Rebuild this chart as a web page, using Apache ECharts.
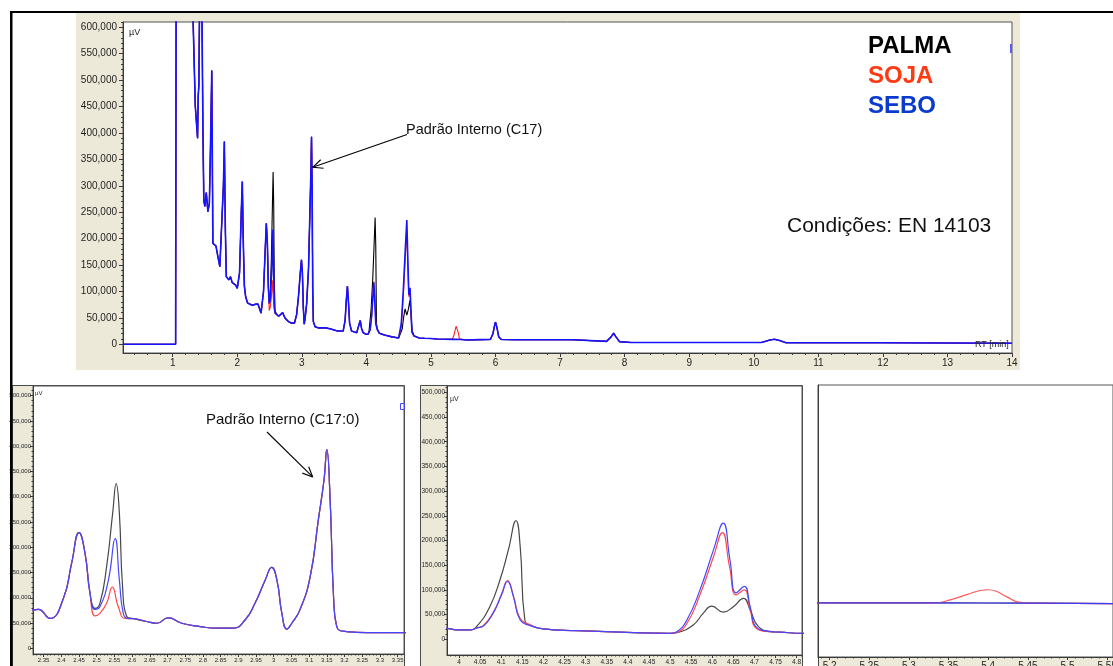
<!DOCTYPE html>
<html>
<head>
<meta charset="utf-8">
<title>Cromatogramas PALMA / SOJA / SEBO</title>
<script src="https://cdn.jsdelivr.net/npm/echarts@6/dist/echarts.min.js"></script>
<style>
  html, body { margin: 0; padding: 0; background: #ffffff; }
  #chart { width: 1113px; height: 666px; }
</style>
</head>
<body>
<div id="chart"></div>
<script>
// ---------------------------------------------------------------------------
// Chromatogram data: [retention time (min), signal (µV)]
// Points where the three samples coincide
const sharedTrace = [
  [0.23, 0], [1.045, 0], [1.056, 900000], [1.29, 900000], [1.31, 640000], [1.35, 450000],
  [1.385, 390000], [1.395, 470000], [1.405, 490000], [1.42, 492000], [1.435, 900000],
  [1.455, 900000], [1.468, 405000], [1.482, 272000], [1.498, 261000], [1.52, 287000],
  [1.545, 251000], [1.568, 267000], [1.585, 372000], [1.605, 518000], [1.622, 191000],
  [1.645, 194000], [1.67, 186000], [1.70, 166000], [1.73, 147000], [1.75, 150000],
  [1.785, 300000], [1.80, 384000], [1.815, 220000], [1.83, 128000], [1.87, 122000],
  [1.895, 128000], [1.92, 117000], [1.95, 120000], [1.975, 112000], [2.0, 106000],
  [2.035, 135000], [2.062, 250000], [2.078, 308000], [2.092, 200000], [2.11, 110000],
  [2.13, 90000], [2.16, 78000], [2.23, 74000], [2.29, 76000],
  [2.321, 76000], [2.335, 77000], [2.368, 59000], [2.406, 99000], [2.429, 168000],
  [2.45, 229000], [2.467, 188000], [2.481, 109000],
  [2.604, 58700], [2.641, 53000], [2.669, 49500], [2.702, 60000], [2.74, 49500],
  [2.792, 43000], [2.839, 40000], [2.886, 40000], [2.919, 56000], [2.947, 89000],
  [2.976, 135000], [2.994, 160000], [3.009, 135000], [3.023, 69000], [3.037, 38000],
  [3.051, 49500], [3.074, 76000], [3.103, 142000], [3.126, 254000], [3.142, 333000],
  [3.15, 393000], [3.159, 300000], [3.169, 102000], [3.178, 43000], [3.206, 33000],
  [3.263, 31000], [3.371, 31000],
  [3.45, 29000], [3.55, 25000], [3.64, 25000], [3.67, 45000], [3.69, 85000],
  [3.706, 110000], [3.72, 85000], [3.74, 40000], [3.77, 25000], [3.85, 22000],
  [3.88, 35000], [3.905, 45000], [3.925, 30000], [3.95, 22000],
  [3.971, 22000], [3.994, 19000], [4.026, 19000],
  [4.2, 21000], [4.279, 17500], [4.397, 14000], [4.5, 12000],
  [4.76, 14500], [4.816, 12000], [4.9, 11500], [5.0, 11000], [5.1, 10000], [5.2, 9500],
  [5.33, 9300],
  [5.46, 9000], [5.56, 8000], [5.75, 8800], [5.92, 9000], [5.96, 20000], [5.99, 38000],
  [6.0, 42000], [6.02, 33000], [6.05, 14000], [6.09, 9000], [6.3, 8500], [7.2, 8500],
  [7.22, 5500], [7.72, 5500], [7.79, 14000], [7.83, 21000], [7.86, 15000], [7.92, 5000],
  [8.1, 3500], [10.12, 3500], [10.25, 8000], [10.32, 9500], [10.4, 7000], [10.5, 3000],
  [12.0, 2800], [14.0, 2000]
];

// Sample-specific stretches
const palmaTrace = [
  [2.495, 79000], [2.509, 89000], [2.528, 162000], [2.545, 267000], [2.555, 326000],
  [2.564, 267000], [2.573, 122000], [2.585, 63000],
  [4.042, 26000], [4.073, 66000], [4.097, 120000], [4.117, 181000], [4.135, 240000],
  [4.145, 188000], [4.156, 39000], [4.172, 27000],
  [4.516, 13500], [4.555, 29000], [4.579, 53000], [4.599, 67000], [4.626, 55000],
  [4.65, 66000], [4.674, 83000], [4.69, 59000], [4.709, 26000], [4.737, 15500]
];
const sojaTrace = [
  [2.495, 64000], [2.509, 69000], [2.528, 89000], [2.544, 121000], [2.561, 82000],
  [2.58, 59000],
  [4.042, 23000], [4.058, 28000], [4.081, 54000], [4.101, 92000], [4.115, 119000],
  [4.129, 88000], [4.145, 42000], [4.168, 30000],
  [4.516, 14000], [4.54, 32000], [4.571, 90000], [4.603, 167000], [4.624, 216000],
  [4.641, 147000], [4.657, 90000], [4.676, 100000], [4.69, 59000],
  [4.705, 22000], [4.737, 15500],
  [5.335, 9500], [5.352, 15500], [5.373, 26000], [5.39, 34500], [5.40, 36000],
  [5.41, 33000], [5.423, 22000], [5.44, 10500], [5.457, 9000]
];
const seboTrace = [
  [2.495, 77000], [2.509, 82000], [2.533, 135000], [2.552, 217000], [2.564, 135000],
  [2.575, 69000], [2.588, 59000],
  [4.042, 23000], [4.058, 27000], [4.081, 53000], [4.101, 90000], [4.115, 117000],
  [4.129, 86000], [4.145, 39000], [4.168, 28000],
  [4.516, 15500], [4.54, 39000], [4.571, 100000], [4.603, 181000], [4.626, 235000],
  [4.642, 161000], [4.657, 94000], [4.676, 107000], [4.69, 66000],
  [4.705, 24000], [4.737, 16000]
];

const sampleNames = ['PALMA', 'SOJA', 'SEBO'];

// Axis tick labels
const rtTicksFull = [1, 2, 3, 4, 5, 6, 7, 8, 9, 10, 11, 12, 13, 14];
const rtTicksZoomA = [2.35, 2.4, 2.45, 2.5, 2.55, 2.6, 2.65, 2.7, 2.75, 2.8, 2.85, 2.9, 2.95,
                      3, 3.05, 3.1, 3.15, 3.2, 3.25, 3.3, 3.35];
const rtTicksZoomB = [4, 4.05, 4.1, 4.15, 4.2, 4.25, 4.3, 4.35, 4.4, 4.45, 4.5, 4.55, 4.6,
                      4.65, 4.7, 4.75, 4.8];
const rtTicksZoomC = [5.2, 5.25, 5.3, 5.35, 5.4, 5.45, 5.5, 5.55];
const uvTicksFull = [0, 50000, 100000, 150000, 200000, 250000, 300000, 350000, 400000,
                     450000, 500000, 550000, 600000];
const uvTicksZoom = [0, 50000, 100000, 150000, 200000, 250000, 300000, 350000, 400000,
                     450000, 500000];

// ---------------------------------------------------------------------------
function mergeTrace(own) {
  return sharedTrace.concat(own).sort((a, b) => a[0] - b[0]);
}
const traces = [mergeTrace(palmaTrace), mergeTrace(sojaTrace), mergeTrace(seboTrace)];

function steps(min, max, step) {
  const out = [];
  for (let k = Math.ceil(min / step - 1e-9); k * step <= max + 1e-9; k++) {
    out.push(+(k * step).toFixed(6));
  }
  return out;
}
const fmtRt = v => String(parseFloat((+v).toFixed(2)));
const fmtUv = v => Math.round(v).toLocaleString('en-US');

const FONT = '"Liberation Sans", Arial, sans-serif';
const NARROW = '"Liberation Sans Narrow", "Liberation Sans", Arial, sans-serif';
const AXIS = '#3a3a3a';

const panels = [
  { left: 123, top: 22, width: 889, height: 331,
    xMin: 0.23, xMax: 14, yMin: -16500, yMax: 610000,
    xTicks: rtTicksFull, yTicks: uvTicksFull, xMinor: 0.2, yMinor: 10000,
    majorLen: 4, minorLen: 2, xFont: 10, yFont: 10, xMargin: 5, yMargin: 6,
    family: FONT, showY: true, smooth: false, lineWidths: [1.1, 1.1, 1.6],
    colors: ['#000000', '#ff2424', '#1414ff'] },
  { left: 33, top: 386, width: 371, height: 268,
    xMin: 2.32, xMax: 3.368, yMin: -11300, yMax: 519000,
    xTicks: rtTicksZoomA, yTicks: uvTicksZoom, xMinor: 0.01, yMinor: 10000,
    majorLen: 3, minorLen: 1.5, xFont: 6, yFont: 6, xMargin: 3, yMargin: 2,
    family: NARROW, showY: true, smooth: 0.5, lineWidths: [1.2, 1.2, 1.2],
    colors: ['#474747', '#ff4a4a', '#4646ff'] },
  { left: 447, top: 386, width: 355, height: 269,
    xMin: 3.9716, xMax: 4.8127, yMin: -31800, yMax: 512800,
    xTicks: rtTicksZoomB, yTicks: uvTicksZoom, xMinor: 0.01, yMinor: 10000,
    majorLen: 3, minorLen: 1.5, xFont: 6.5, yFont: 6.5, xMargin: 4, yMargin: 2,
    family: NARROW, showY: true, smooth: 0.5, lineWidths: [1.2, 1.2, 1.2],
    colors: ['#474747', '#ff4a4a', '#4646ff'] },
  { left: 818, top: 385, width: 295, height: 272,
    xMin: 5.1854, xMax: 5.5573, yMin: -100000, yMax: 450000,
    xTicks: rtTicksZoomC, yTicks: [], xMinor: 0.01, yMinor: null,
    majorLen: 3, minorLen: 1.5, xFont: 10, yFont: 8, xMargin: 4, yMargin: 2,
    family: FONT, showY: false, smooth: 0.5, lineWidths: [1.2, 1.2, 1.2],
    colors: ['#474747', '#ff5a5a', '#3c3cff'] }
];

const grids = [], xAxes = [], yAxes = [], series = [];

panels.forEach((p, i) => {
  grids.push({
    left: p.left, top: p.top, width: p.width, height: p.height,
    outerBoundsMode: 'none', containLabel: false,
    show: true, backgroundColor: '#ffffff', borderColor: '#555555', borderWidth: 1
  });
  xAxes.push({
    type: 'value', gridIndex: i, min: p.xMin, max: p.xMax, position: 'bottom',
    axisLine: { show: true, onZero: false, lineStyle: { color: AXIS, width: 1 } },
    axisTick: { show: true, length: p.majorLen, customValues: p.xTicks, lineStyle: { color: AXIS } },
    axisLabel: { show: true, customValues: p.xTicks, formatter: fmtRt, fontSize: p.xFont,
                 margin: p.xMargin, color: '#1e1e1e', fontFamily: p.family,
                 hideOverlap: false },
    splitLine: { show: false }
  });
  yAxes.push({
    type: 'value', gridIndex: i, min: p.yMin, max: p.yMax, position: 'left',
    axisLine: { show: true, onZero: false, lineStyle: { color: AXIS, width: 1 } },
    axisTick: { show: p.showY, length: p.majorLen, customValues: p.yTicks, lineStyle: { color: AXIS } },
    axisLabel: { show: p.showY, customValues: p.yTicks, formatter: fmtUv, fontSize: p.yFont,
                 margin: p.yMargin, color: '#1e1e1e', fontFamily: p.family },
    splitLine: { show: false }
  });
  sampleNames.forEach((name, s) => {
    series.push({
      name: name, type: 'line', xAxisIndex: i, yAxisIndex: i,
      data: traces[s], symbol: 'none', showSymbol: false,
      smooth: p.smooth, clip: true, silent: true,
      lineStyle: { color: p.colors[s], width: p.lineWidths[s] },
      z: 2 + s
    });
  });
});

// secondary axes carrying the short minor ticks
panels.forEach((p, i) => {
  xAxes.push({
    type: 'value', gridIndex: i, min: p.xMin, max: p.xMax, position: 'bottom',
    axisLine: { show: false, onZero: false },
    axisTick: { show: true, length: p.minorLen, customValues: steps(p.xMin, p.xMax, p.xMinor),
                lineStyle: { color: AXIS } },
    axisLabel: { show: false }, splitLine: { show: false }
  });
  yAxes.push({
    type: 'value', gridIndex: i, min: p.yMin, max: p.yMax, position: 'left',
    axisLine: { show: false, onZero: false },
    axisTick: { show: !!p.yMinor, length: p.minorLen,
                customValues: p.yMinor ? steps(Math.max(0, p.yMin), p.yMax, p.yMinor) : [],
                lineStyle: { color: AXIS } },
    axisLabel: { show: false }, splitLine: { show: false }
  });
});

const chart = echarts.init(document.getElementById('chart'), null, { renderer: 'canvas' });
chart.setOption({
  animation: false,
  backgroundColor: '#ffffff',
  grid: grids, xAxis: xAxes, yAxis: yAxes, series: series
});

// ---------------------------------------------------------------------------
// Frame, panel backgrounds and annotations
function arrow(x1, y1, x2, y2) {
  const a = Math.atan2(y2 - y1, x2 - x1), L = 11, w = 0.42;
  const head = s => ({
    type: 'line', z: 50, silent: true,
    shape: { x1: x2, y1: y2, x2: x2 - L * Math.cos(a + s * w), y2: y2 - L * Math.sin(a + s * w) },
    style: { stroke: '#000', lineWidth: 1.1 }
  });
  return [
    { type: 'line', z: 50, silent: true, shape: { x1, y1, x2, y2 }, style: { stroke: '#000', lineWidth: 1.1 } },
    head(1), head(-1)
  ];
}
function label(text, x, y, size, opts) {
  return {
    type: 'text', x: x, y: y, z: 60, silent: true,
    style: Object.assign({ text: text, fontSize: size, fontFamily: FONT, fill: '#000',
                           align: 'left', verticalAlign: 'middle' }, opts || {})
  };
}
const bg = (x, y, w, h, stroke) => ({
  type: 'rect', z: -10, silent: true, shape: { x, y, width: w, height: h },
  style: { fill: '#ece9d8', stroke: stroke || null, lineWidth: 1 }
});

const tipMain = chart.convertToPixel({ xAxisIndex: 0, yAxisIndex: 0 }, [3.16, 335000]);
const tipZoom = chart.convertToPixel({ xAxisIndex: 1, yAxisIndex: 1 }, [3.11, 339000]);

const graphics = [
  bg(76, 13, 944, 357),
  bg(12.5, 385.5, 392, 281, '#4a4a4a'),
  bg(420.5, 385.5, 382, 281, '#4a4a4a'),
  bg(818.5, 385.5, 295, 281, '#4a4a4a'),
  { type: 'rect', z: 80, silent: true, shape: { x: 10, y: 11, width: 1103, height: 2 }, style: { fill: '#000' } },
  { type: 'rect', z: 80, silent: true, shape: { x: 10, y: 11, width: 2.5, height: 655 }, style: { fill: '#000' } },
  { type: 'rect', z: 40, silent: true, shape: { x: 1010, y: 44, width: 2, height: 9 }, style: { fill: '#5a5aff' } },
  { type: 'rect', z: 40, silent: true, shape: { x: 400.5, y: 403.5, width: 4, height: 6 }, style: { fill: 'none', stroke: '#4646ff', lineWidth: 1 } },

  label('PALMA', 868, 46, 24, { fontWeight: 'bold', fill: '#000000' }),
  label('SOJA', 868, 76, 24, { fontWeight: 'bold', fill: '#ff3a12' }),
  label('SEBO', 868, 106, 24, { fontWeight: 'bold', fill: '#0b3bcc' }),
  label('Condições: EN 14103', 787, 226, 21, { fill: '#111' }),
  label('Padrão Interno (C17)', 406, 130, 14.5, { fill: '#111' }),
  label('Padrão Interno (C17:0)', 206, 420, 15, { fill: '#111' }),
  label('µV', 129, 33, 9, { fill: '#222' }),
  label('µV', 35, 393, 6, { fill: '#222', fontFamily: NARROW }),
  label('µV', 450, 399, 7, { fill: '#222', fontFamily: NARROW }),
  label('RT [min]', 975, 345, 9, { fill: '#222' })
]
  .concat(arrow(407, 134.5, tipMain[0] + 0.5, tipMain[1]))
  .concat(arrow(267, 432, tipZoom[0], tipZoom[1]));

chart.setOption({ graphic: { elements: graphics } });
</script>
</body>
</html>
